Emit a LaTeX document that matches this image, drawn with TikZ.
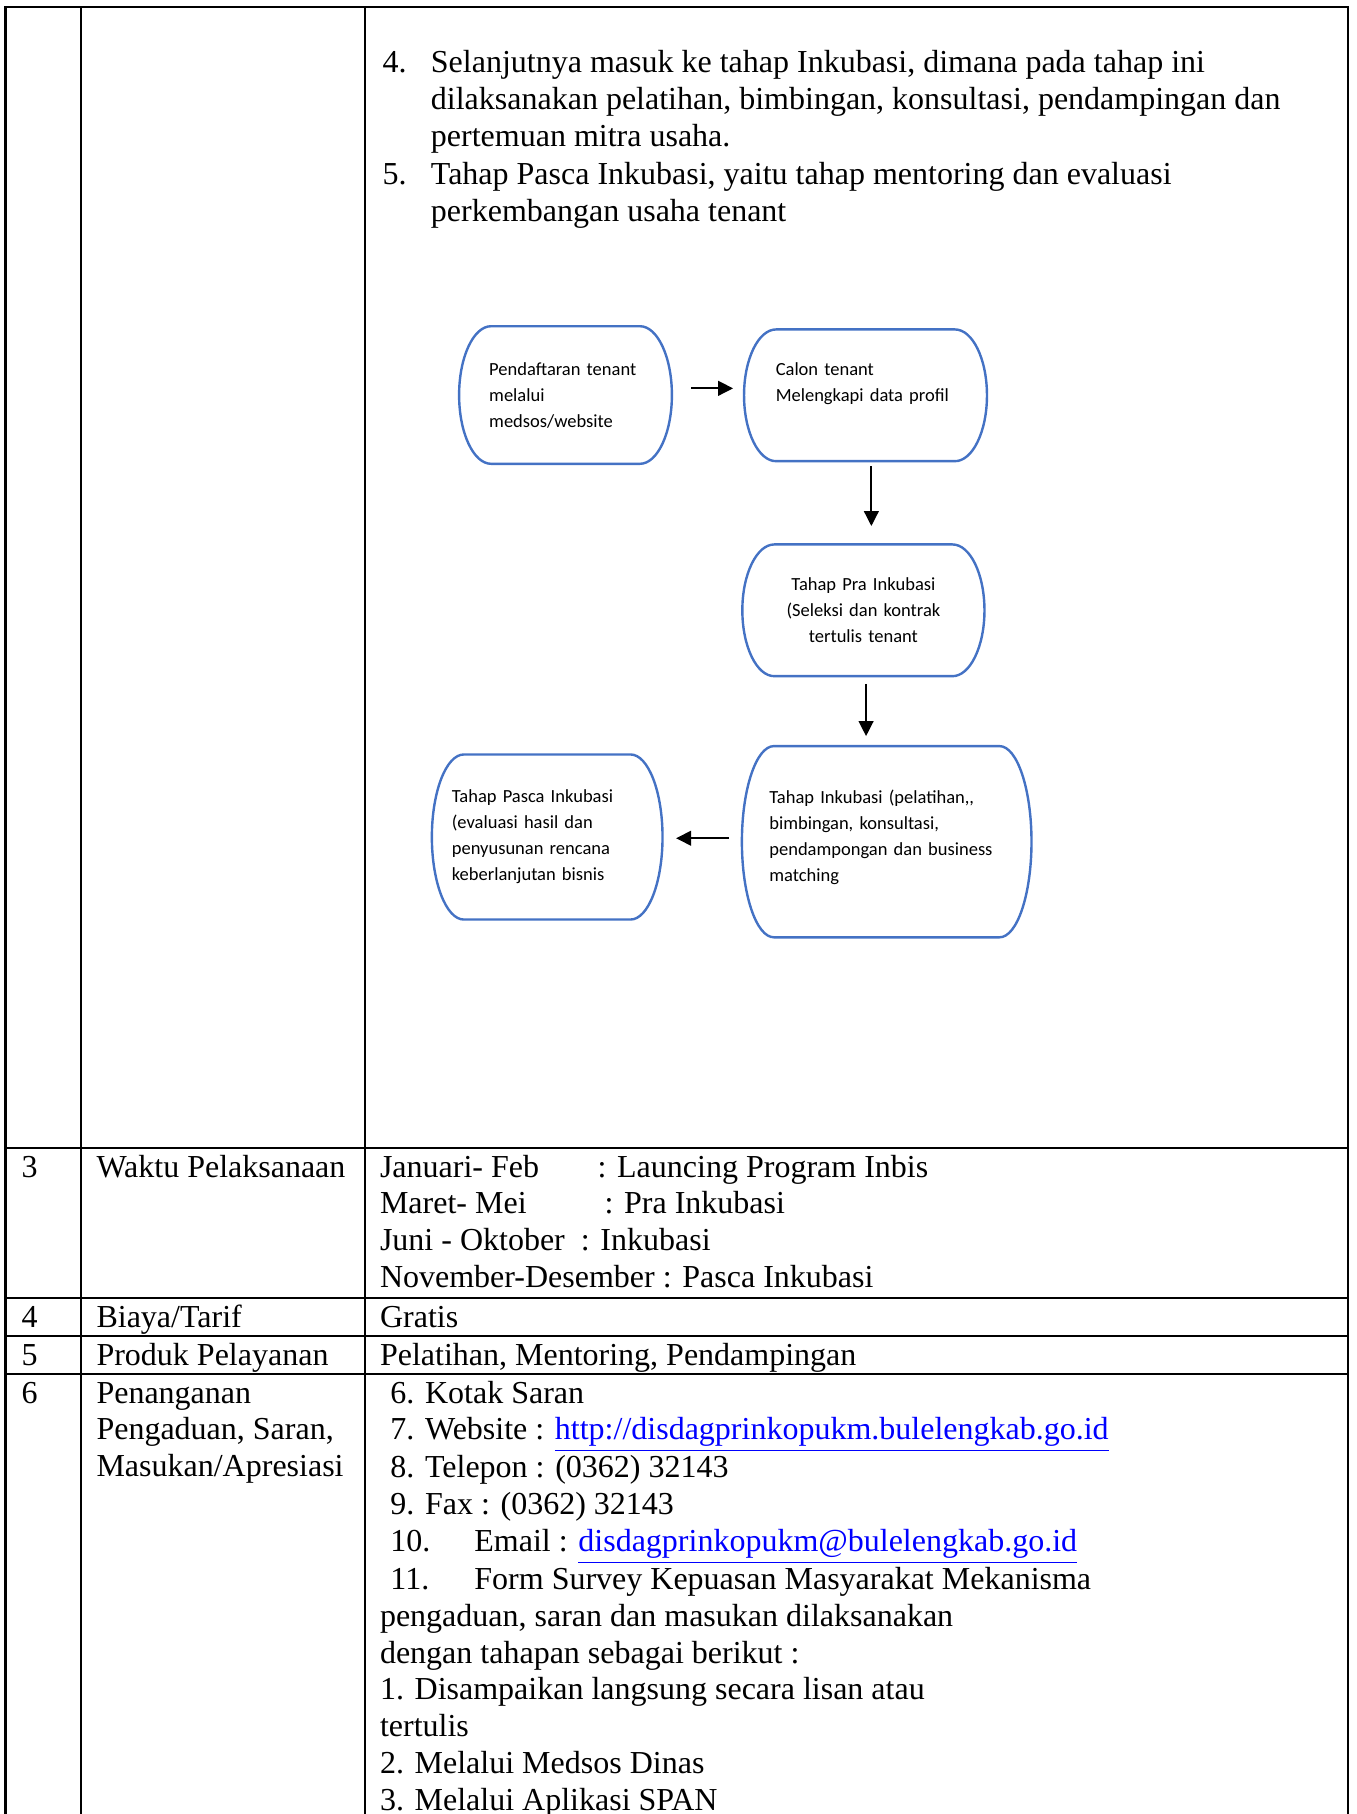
\documentclass[tikz,border=0pt]{standalone}
\usepackage{fontspec}
\setmainfont{Liberation Serif}
\newfontfamily\calibri{Carlito}
\usetikzlibrary{arrows.meta,calc}

\definecolor{boxblue}{HTML}{4472C4}
\definecolor{linkblue}{HTML}{0000FF}

\newcommand{\rowlines}[1]{\begin{tabular}[t]{@{}l@{}}#1\end{tabular}}

\tikzset{
  txt/.style={font=\fontsize{12}{13.8}\selectfont, inner sep=0pt, anchor=base west},
  stage/.style={font=\calibri\fontsize{6.94}{9.75}\selectfont, inner ysep=0pt, align=left},
  stageline/.style={draw=boxblue, line width=0.9pt},
  flow/.style={-{Triangle[length=5.6pt,width=5.5pt]}, line width=0.75pt},
  rule/.style={line width=1pt}
}

\begin{document}
\begin{tikzpicture}[x=0.375pt, y=-0.375pt]
\useasboundingbox (0,0) rectangle (1357,1814);

\draw[rule] (5.5,1814) -- (5.5,7) -- (1348,7) -- (1348,1814);
\draw[rule] (81,7) -- (81,1814);
\draw[rule] (365,7) -- (365,1814);
\foreach \y in {1148,1298,1336,1374}
  \draw[rule] (5.5,\y) -- (1348,\y);

\node[txt] (n4) at (382,72.6) {4.};
\node[txt] (item4) at (430.4,72.6) {\rowlines{Selanjutnya masuk ke tahap Inkubasi, dimana pada tahap ini\\dilaksanakan pelatihan, bimbingan, konsultasi, pendampingan dan\\pertemuan mitra usaha.}};
\node[txt] (n5) at (382,184.8) {5.};
\node[txt] (item5) at (430.4,184.8) {\rowlines{Tahap Pasca Inkubasi, yaitu tahap mentoring dan evaluasi\\perkembangan usaha tenant}};

\node[stage, minimum width=79.4pt, minimum height=51.2pt, inner xsep=11.1pt, text width=57.2pt] (daftar) at (565.5,395) {Pendaftaran tenant\\melalui\\medsos/website};
\node[stage, minimum width=90.7pt, minimum height=49pt, inner xsep=11.7pt, text width=67.3pt] (calon) at (865.5,395.3) {Calon tenant\\Melengkapi data profil\\\mbox{}};
\node[stage, align=center, minimum width=90.4pt, minimum height=49pt, text width=70pt] (pra) at (863.4,610.3) {Tahap Pra Inkubasi\\(Seleksi dan kontrak\\tertulis tenant};
\node[stage, minimum width=108.2pt, minimum height=71.3pt, inner xsep=10.1pt, text width=88pt] (inkubasi) at (886.7,841.7) {Tahap Inkubasi (pelatihan,,\\bimbingan, konsultasi,\\pendampongan dan business\\matching\\[-4.95pt]\mbox{}};
\node[stage, minimum width=86.1pt, minimum height=61.5pt, inner xsep=7.3pt, text width=71.5pt] (pasca) at (547.2,837) {Tahap Pasca Inkubasi\\(evaluasi hasil dan\\penyusunan rencana\\keberlanjutan bisnis};

\foreach \n in {daftar,calon,pra,inkubasi,pasca}
  \draw[stageline] ([xshift=12pt]\n.north west) -- ([xshift=-12pt]\n.north east)
    .. controls ([xshift=-5.4pt]\n.north east) and ($(\n.east)!0.552!(\n.north east)$) .. (\n.east)
    .. controls ($(\n.east)!0.552!(\n.south east)$) and ([xshift=-5.4pt]\n.south east) .. ([xshift=-12pt]\n.south east)
    -- ([xshift=12pt]\n.south west)
    .. controls ([xshift=5.4pt]\n.south west) and ($(\n.west)!0.552!(\n.south west)$) .. (\n.west)
    .. controls ($(\n.west)!0.552!(\n.north west)$) and ([xshift=5.4pt]\n.north west) .. cycle;

\draw[flow, shorten <=7.2pt, shorten >=4.1pt] ($(daftar.east)+(0,2.5pt)$) -- ($(daftar.east -| calon.west)+(0,2.5pt)$);
\draw[flow, shorten <=1.9pt, shorten >=6.9pt] ($(calon.south)+(2.2pt,0)$) -- ($(calon.south |- pra.north)+(2.2pt,0)$);
\draw[flow, shorten <=2.9pt, shorten >=3.75pt] ($(pra.south)+(1pt,0)$) -- ($(pra.south |- inkubasi.north)+(1pt,0)$);
\draw[flow, shorten <=4.8pt, shorten >=5.1pt] ($(inkubasi.west)+(0,1.3pt)$) -- ($(inkubasi.west -| pasca.east)+(0,1.3pt)$);

\node[txt] (no3) at (21,1177) {3};
\node[txt] (waktu) at (96,1177) {Waktu Pelaksanaan};
\node[txt] (jadwal) at (379.5,1177) {\rowlines{\makebox[81.6pt][l]{Januari- Feb}: Launcing Program Inbis\\\makebox[84.2pt][l]{Maret- Mei}: Pra Inkubasi\\Juni - Oktober~ : Inkubasi\\November-Desember : Pasca Inkubasi}};

\node[txt] (no4) at (21,1327) {4};
\node[txt] (biaya) at (96,1327) {Biaya/Tarif};
\node[txt] (gratis) at (379.5,1327) {Gratis};

\node[txt] (no5) at (21,1365) {5};
\node[txt] (produk) at (96,1365) {Produk Pelayanan};
\node[txt] (layanan) at (379.5,1365) {Pelatihan, Mentoring, Pendampingan};

\node[txt] (no6) at (21,1403) {6};
\node[txt] (aduan) at (96,1403) {\rowlines{Penanganan\\Pengaduan, Saran,\\Masukan/Apresiasi}};
\node[txt] (saluran) at (379.5,1403) {\rowlines{\hspace*{3.9pt}6. Kotak Saran\\
\hspace*{3.9pt}7. Website : \textcolor{linkblue}{\underline{http://disdagprinkopukm.bulelengkab.go.id}}\\
\hspace*{3.9pt}8. Telepon : (0362) 32143\\
\hspace*{3.9pt}9. Fax : (0362) 32143\\
\hspace*{3.9pt}\makebox[31.5pt][l]{10.}Email : \textcolor{linkblue}{\underline{disdagprinkopukm@bulelengkab.go.id}}\\
\hspace*{3.9pt}\makebox[31.5pt][l]{11.}Form Survey Kepuasan Masyarakat Mekanisma\\
pengaduan, saran dan masukan dilaksanakan\\
dengan tahapan sebagai berikut :\\
1. Disampaikan langsung secara lisan atau\\
tertulis\\
2. Melalui Medsos Dinas\\
3. Melalui Aplikasi SPAN}};
\end{tikzpicture}
\end{document}
